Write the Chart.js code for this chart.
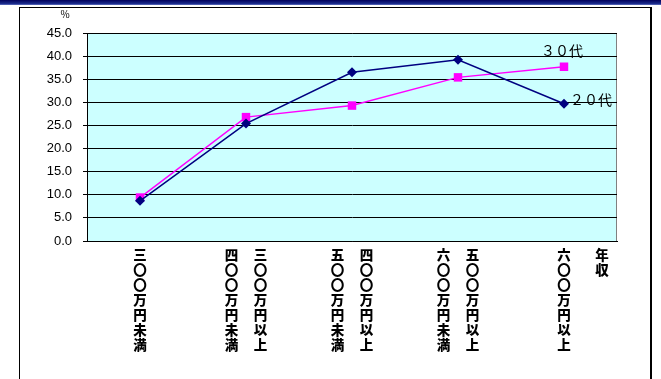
<!DOCTYPE html>
<html>
<head>
<meta charset="utf-8">
<script src="https://cdn.jsdelivr.net/npm/chart.js@4"></script>
<style>
  html, body { margin: 0; padding: 0; background: #fff; }
  #wrap { position: relative; width: 661px; height: 379px; overflow: hidden; }
  #band { position: absolute; left: 0; top: 0; width: 661px; height: 5px;
          background: linear-gradient(to bottom, #00005a 0%, #1a2a8a 70%, #6070c0 100%); }
  #frame { position: absolute; left: 19px; top: 7px; width: 633px; height: 400px;
           border: 1px solid #000; border-right-width: 2px; box-sizing: border-box; }
  canvas { position: absolute; left: 0; top: 0; }
</style>
</head>
<body>
<div id="wrap">
  <div id="band"></div>
  <div id="frame"></div>
  <canvas id="c" width="661" height="379"></canvas>
</div>
<script>
// 年収区分（縦書きラベルは右の列から読む）
const categories = [
  ["三〇〇万円未満"],
  ["三〇〇万円以上", "四〇〇万円未満"],
  ["四〇〇万円以上", "五〇〇万円未満"],
  ["五〇〇万円以上", "六〇〇万円未満"],
  ["六〇〇万円以上"]
];
const seriesNames = ["２０代", "３０代"];
const values20 = [8.7, 25.4, 36.5, 39.2, 29.7];
const values30 = [9.4, 26.8, 29.3, 35.4, 37.7];
const yTicks = [0, 5, 10, 15, 20, 25, 30, 35, 40, 45];
const unitLabel = "%";
const axisTitle = "年収";

const FONT = "'Noto Sans CJK JP', 'Liberation Sans', sans-serif";

// プロット領域の背景と枠
const plotFrame = {
  id: 'plotFrame',
  beforeDraw(chart) {
    const { ctx, chartArea: a } = chart;
    ctx.save();
    ctx.fillStyle = '#ccffff';
    ctx.fillRect(a.left, a.top, a.right - a.left, a.bottom - a.top);
    ctx.strokeStyle = '#808080';
    ctx.lineWidth = 1;
    ctx.beginPath();
    ctx.moveTo(a.left, a.top + 0.5);
    ctx.lineTo(a.right - 0.5, a.top + 0.5);
    ctx.lineTo(a.right - 0.5, a.bottom);
    ctx.stroke();
    ctx.restore();
  }
};

// 縦書きのカテゴリラベル、単位、系列名
const textLayer = {
  id: 'textLayer',
  afterDraw(chart) {
    const { ctx, chartArea: a } = chart;
    const xs = chart.scales.x, ys = chart.scales.y;
    ctx.save();
    ctx.fillStyle = '#000';
    ctx.textAlign = 'center';
    ctx.textBaseline = 'top';
    ctx.font = "900 13.5px " + FONT;
    const step = 15, colGap = 29, top0 = a.bottom + 7;
    categories.forEach((lines, i) => {
      const cx = xs.getPixelForValue(i);
      const n = lines.length;
      lines.forEach((line, j) => {
        // 1行目を右の列に置く
        const colX = cx + ((n - 1) / 2 - j) * colGap;
        [...line].forEach((ch, k) => ctx.fillText(ch, colX, top0 + k * step));
      });
    });
    // 軸タイトル（縦書き）
    const tx = xs.getPixelForValue(categories.length - 1) + 38;
    [...axisTitle].forEach((ch, k) => ctx.fillText(ch, tx, top0 + k * step));

    // 単位
    ctx.font = "10px " + FONT;
    ctx.textAlign = 'center';
    ctx.textBaseline = 'middle';
    ctx.fillText(unitLabel, 65, 14);

    // 系列名
    ctx.font = "14px " + FONT;
    const last = categories.length - 1;
    const p30x = xs.getPixelForValue(last), p30y = ys.getPixelForValue(values30[last]);
    ctx.textAlign = 'center';
    ctx.textBaseline = 'bottom';
    ctx.fillText(seriesNames[1], p30x - 2, p30y - 9);
    const p20x = xs.getPixelForValue(last), p20y = ys.getPixelForValue(values20[last]);
    ctx.textAlign = 'left';
    ctx.textBaseline = 'middle';
    ctx.fillText(seriesNames[0], p20x + 6, p20y - 4);
    ctx.restore();
  }
};

new Chart(document.getElementById('c'), {
  type: 'line',
  data: {
    labels: categories.map(c => c.join('')),
    datasets: [
      {
        label: seriesNames[0], data: values20,
        borderColor: '#000080', backgroundColor: '#000080',
        borderWidth: 1.5, pointStyle: 'rectRot', pointRadius: 5,
        pointBorderWidth: 0, tension: 0
      },
      {
        label: seriesNames[1], data: values30,
        borderColor: '#ff00ff', backgroundColor: '#ff00ff',
        borderWidth: 1.5, pointStyle: 'rect', pointRadius: 6,
        pointBorderWidth: 0, tension: 0
      }
    ]
  },
  options: {
    responsive: false,
    animation: false,
    layout: { padding: { top: 33, right: 44, bottom: 0, left: 0 } },
    plugins: { legend: { display: false }, tooltip: { enabled: false } },
    scales: {
      x: {
        offset: true,
        grid: { display: false, drawTicks: false },
        border: { display: true, color: '#000', width: 1 },
        ticks: { display: false },
        afterFit(scale) { scale.height = 379 - 241; }
      },
      y: {
        min: 0, max: 45,
        afterBuildTicks(scale) { scale.ticks = yTicks.map(v => ({ value: v })); },
        grid: { color: '#000', lineWidth: 1, tickLength: 4, drawTicks: true },
        border: { display: true, color: '#000', width: 1 },
        ticks: {
          color: '#000', padding: 11,
          font: { family: "'Liberation Sans', sans-serif", size: 13 },
          callback: v => v.toFixed(1)
        },
        afterFit(scale) { scale.width = 87; }
      }
    }
  },
  plugins: [plotFrame, textLayer]
});
</script>
</body>
</html>
